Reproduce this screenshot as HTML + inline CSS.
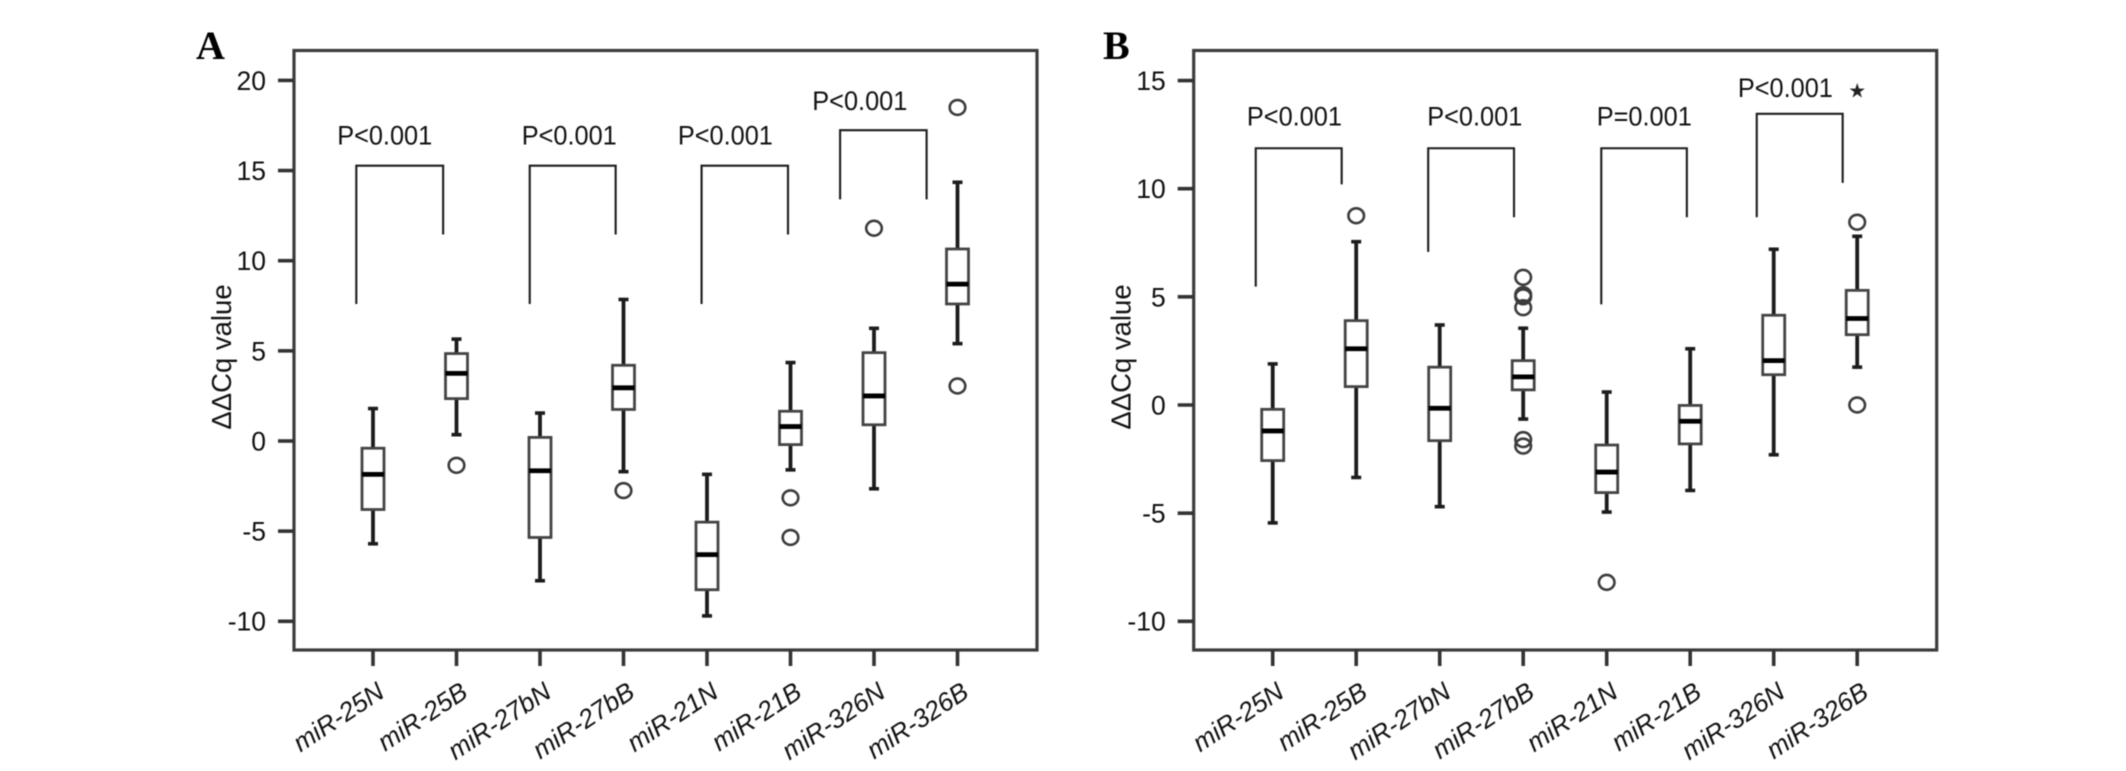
<!DOCTYPE html>
<html lang="en">
<head>
<meta charset="utf-8">
<title>ΔΔCq box plots</title>
<style>
html,body{margin:0;padding:0;background:#fff;width:2126px;height:771px;overflow:hidden}
svg{display:block;filter:blur(0.6px)}
text{font-family:"Liberation Sans",sans-serif;fill:#111}
</style>
</head>
<body>
<svg id="figure" xmlns="http://www.w3.org/2000/svg" width="2126" height="771" viewBox="0 0 2126 771"></svg>
<script>
const categories = ['miR-25N','miR-25B','miR-27bN','miR-27bB','miR-21N','miR-21B','miR-326N','miR-326B'];

const aTicks = [20,15,10,5,0,-5,-10];
const aHigh = [1.8,5.65,1.55,7.85,-1.85,4.35,6.25,14.35];
const aQ3 = [-0.4,4.85,0.2,4.2,-4.5,1.65,4.9,10.65];
const aMedian = [-1.85,3.75,-1.65,2.95,-6.3,0.8,2.5,8.7];
const aQ1 = [-3.8,2.35,-5.35,1.75,-8.25,-0.2,0.9,7.6];
const aLow = [-5.7,0.35,-7.75,-1.7,-9.7,-1.6,-2.65,5.4];
const aOutliers = [[],[-1.35],[],[-2.75],[],[-3.15,-5.35],[11.8],[18.5,3.05]];
const aExtremes = [[],[],[],[],[],[],[],[]];
const aBracketFrom = [-0.2,1.877,3.935,5.594];
const aBracketTo = [0.84,2.906,4.97,6.63];
const aBracketTop = [15.27,15.27,15.27,17.24];
const aBracketLeftEnd = [7.6,7.6,7.6,13.4];
const aBracketRightEnd = [11.45,11.45,11.45,13.4];
const aPLabels = ['P<0.001','P<0.001','P<0.001','P<0.001'];
const aPLabelAt = [0.14,2.35,4.22,5.83];
const aPLabelValue = [16.9,16.9,16.9,18.8];

const bTicks = [15,10,5,0,-5,-10];
const bHigh = [1.9,7.55,3.7,3.55,0.6,2.6,7.2,7.8];
const bQ3 = [-0.2,3.9,1.75,2.05,-1.85,-0.02,4.15,5.3];
const bMedian = [-1.2,2.6,-0.15,1.3,-3.1,-0.75,2.05,4.0];
const bQ1 = [-2.57,0.85,-1.65,0.7,-4.05,-1.8,1.4,3.25];
const bLow = [-5.45,-3.35,-4.7,-0.65,-4.95,-3.95,-2.3,1.75];
const bOutliers = [[],[8.75],[],[5.9,5.1,5.0,4.5,-1.6,-1.9],[-8.2],[],[],[8.45,0.0]];
const bExtremes = [[],[],[],[],[],[],[],[14.55]];
const bBracketFrom = [-0.203,1.862,3.935,5.797];
const bBracketTo = [0.826,2.89,4.96,6.826];
const bBracketTop = [11.87,11.87,11.87,13.46];
const bBracketLeftEnd = [5.47,7.08,4.65,8.68];
const bBracketRightEnd = [10.2,8.68,8.68,10.27];
const bPLabels = ['P<0.001','P<0.001','P=0.001','P<0.001'];
const bPLabelAt = [0.26,2.42,4.45,6.14];
const bPLabelValue = [13.3,13.3,13.3,14.6];

const NS = 'http://www.w3.org/2000/svg';
const figure = document.getElementById('figure');

function node(parent, tag, props, content) {
  const el = document.createElementNS(NS, tag);
  for (const k in props) el.setAttribute(k, props[k]);
  if (content !== undefined) el.textContent = content;
  parent.appendChild(el);
  return el;
}

function drawPanel(cfg) {
  const left = cfg.left, right = cfg.left + 743, top = 50.5, bottom = 650;
  const x = i => left + 79 + i * 83.5;
  const y = v => cfg.zeroY - v * cfg.unit;

  const panel = node(figure, 'g', {});
  
  

  const letter = node(panel, 'text', {x: cfg.letterX, y: 59, 'font-size': 40, 'font-weight': 'bold', style: 'font-family:"Liberation Serif",serif;fill:#000'}, cfg.letter);
  
  

  const frame = node(panel, 'rect', {x: left, y: top, width: right - left, height: bottom - top, fill: 'none', stroke: '#3c3c3c', 'stroke-width': 3.2});
  
  

  cfg.ticks.forEach(t => {
    const tick = node(panel, 'line', {x1: left - 16, x2: left, y1: y(t), y2: y(t), stroke: '#333', 'stroke-width': 3.6});
    
    
    const lab = node(panel, 'text', {x: left - 28, y: y(t) + 9.4, 'font-size': 26.5, 'text-anchor': 'end'}, String(t));
    
    
  });

  const cy = 357, cx = left - 63;
  const title = node(panel, 'text', {x: cx, y: cy, 'font-size': 27.5, 'text-anchor': 'middle', transform: 'rotate(-90 ' + cx + ' ' + cy + ')'}, 'ΔΔCq value');
  
  

  categories.forEach((c, i) => {
    const cx0 = x(i);
    const tick = node(panel, 'line', {x1: cx0, x2: cx0, y1: bottom, y2: bottom + 16, stroke: '#333', 'stroke-width': 3.6});
    
    
    const ex = cx0 + 13, ey = 696;
    const lab = node(panel, 'text', {x: 0, y: 0, 'font-size': 26, 'font-style': 'italic', 'text-anchor': 'end', transform: 'translate(' + ex + ' ' + ey + ') rotate(-33.5)'}, c);
    
    

    const box = node(panel, 'g', {});
    
    
    const hw = 11, cap = 5;
    const w1 = node(box, 'line', {x1: cx0, x2: cx0, y1: y(cfg.high[i]), y2: y(cfg.q3[i]), stroke: '#1c1c1c', 'stroke-width': 3.8});
    
    
    const w2 = node(box, 'line', {x1: cx0, x2: cx0, y1: y(cfg.q1[i]), y2: y(cfg.low[i]), stroke: '#1c1c1c', 'stroke-width': 3.8});
    
    
    const c1 = node(box, 'line', {x1: cx0 - cap, x2: cx0 + cap, y1: y(cfg.high[i]), y2: y(cfg.high[i]), stroke: '#1c1c1c', 'stroke-width': 3.6});
    
    
    const c2 = node(box, 'line', {x1: cx0 - cap, x2: cx0 + cap, y1: y(cfg.low[i]), y2: y(cfg.low[i]), stroke: '#1c1c1c', 'stroke-width': 3.6});
    
    
    const r = node(box, 'rect', {x: cx0 - hw, y: y(cfg.q3[i]), width: hw * 2, height: y(cfg.q1[i]) - y(cfg.q3[i]), fill: '#fff', stroke: '#444', 'stroke-width': 2.8});
    
    
    const m = node(box, 'line', {x1: cx0 - hw, x2: cx0 + hw, y1: y(cfg.median[i]), y2: y(cfg.median[i]), stroke: '#000', 'stroke-width': 4.8});
    
    
    cfg.outliers[i].forEach(v => {
      const o = node(box, 'ellipse', {cx: cx0, cy: y(v), rx: 7.8, ry: 7.4, fill: 'none', stroke: '#3c3c3c', 'stroke-width': 2.6});
      
      
    });
    cfg.extremes[i].forEach(v => {
      const s = node(box, 'text', {x: cx0, y: y(v) + 7, 'font-size': 20, 'text-anchor': 'middle', style: 'font-family:"DejaVu Sans",sans-serif;fill:#222'}, '★');
      
      
    });
  });

  cfg.bracketFrom.forEach((f, k) => {
    const d = 'M' + x(f) + ' ' + y(cfg.bracketLeft[k]) + 'V' + y(cfg.bracketTop[k]) + 'H' + x(cfg.bracketTo[k]) + 'V' + y(cfg.bracketRight[k]);
    const b = node(panel, 'path', {d: d, fill: 'none', stroke: '#1c1c1c', 'stroke-width': 2.1});
    
    
  });
  cfg.pLabels.forEach((t, k) => {
    const l = node(panel, 'text', {x: x(cfg.pAt[k]), y: y(cfg.pValue[k]) + 8, 'font-size': 27, 'text-anchor': 'middle', textLength: 95, lengthAdjust: 'spacingAndGlyphs'}, t);
    
    
  });
}

drawPanel({
  id: 'a', letter: 'A', letterX: 196, left: 294, zeroY: 441, unit: 18.03,
  ticks: aTicks, high: aHigh, q3: aQ3, median: aMedian, q1: aQ1, low: aLow,
  outliers: aOutliers, extremes: aExtremes,
  bracketFrom: aBracketFrom, bracketTo: aBracketTo, bracketTop: aBracketTop,
  bracketLeft: aBracketLeftEnd, bracketRight: aBracketRightEnd,
  pLabels: aPLabels, pAt: aPLabelAt, pValue: aPLabelValue
});
drawPanel({
  id: 'b', letter: 'B', letterX: 1103, left: 1193.7, zeroY: 405, unit: 21.63,
  ticks: bTicks, high: bHigh, q3: bQ3, median: bMedian, q1: bQ1, low: bLow,
  outliers: bOutliers, extremes: bExtremes,
  bracketFrom: bBracketFrom, bracketTo: bBracketTo, bracketTop: bBracketTop,
  bracketLeft: bBracketLeftEnd, bracketRight: bBracketRightEnd,
  pLabels: bPLabels, pAt: bPLabelAt, pValue: bPLabelValue
});
</script>
</body>
</html>
